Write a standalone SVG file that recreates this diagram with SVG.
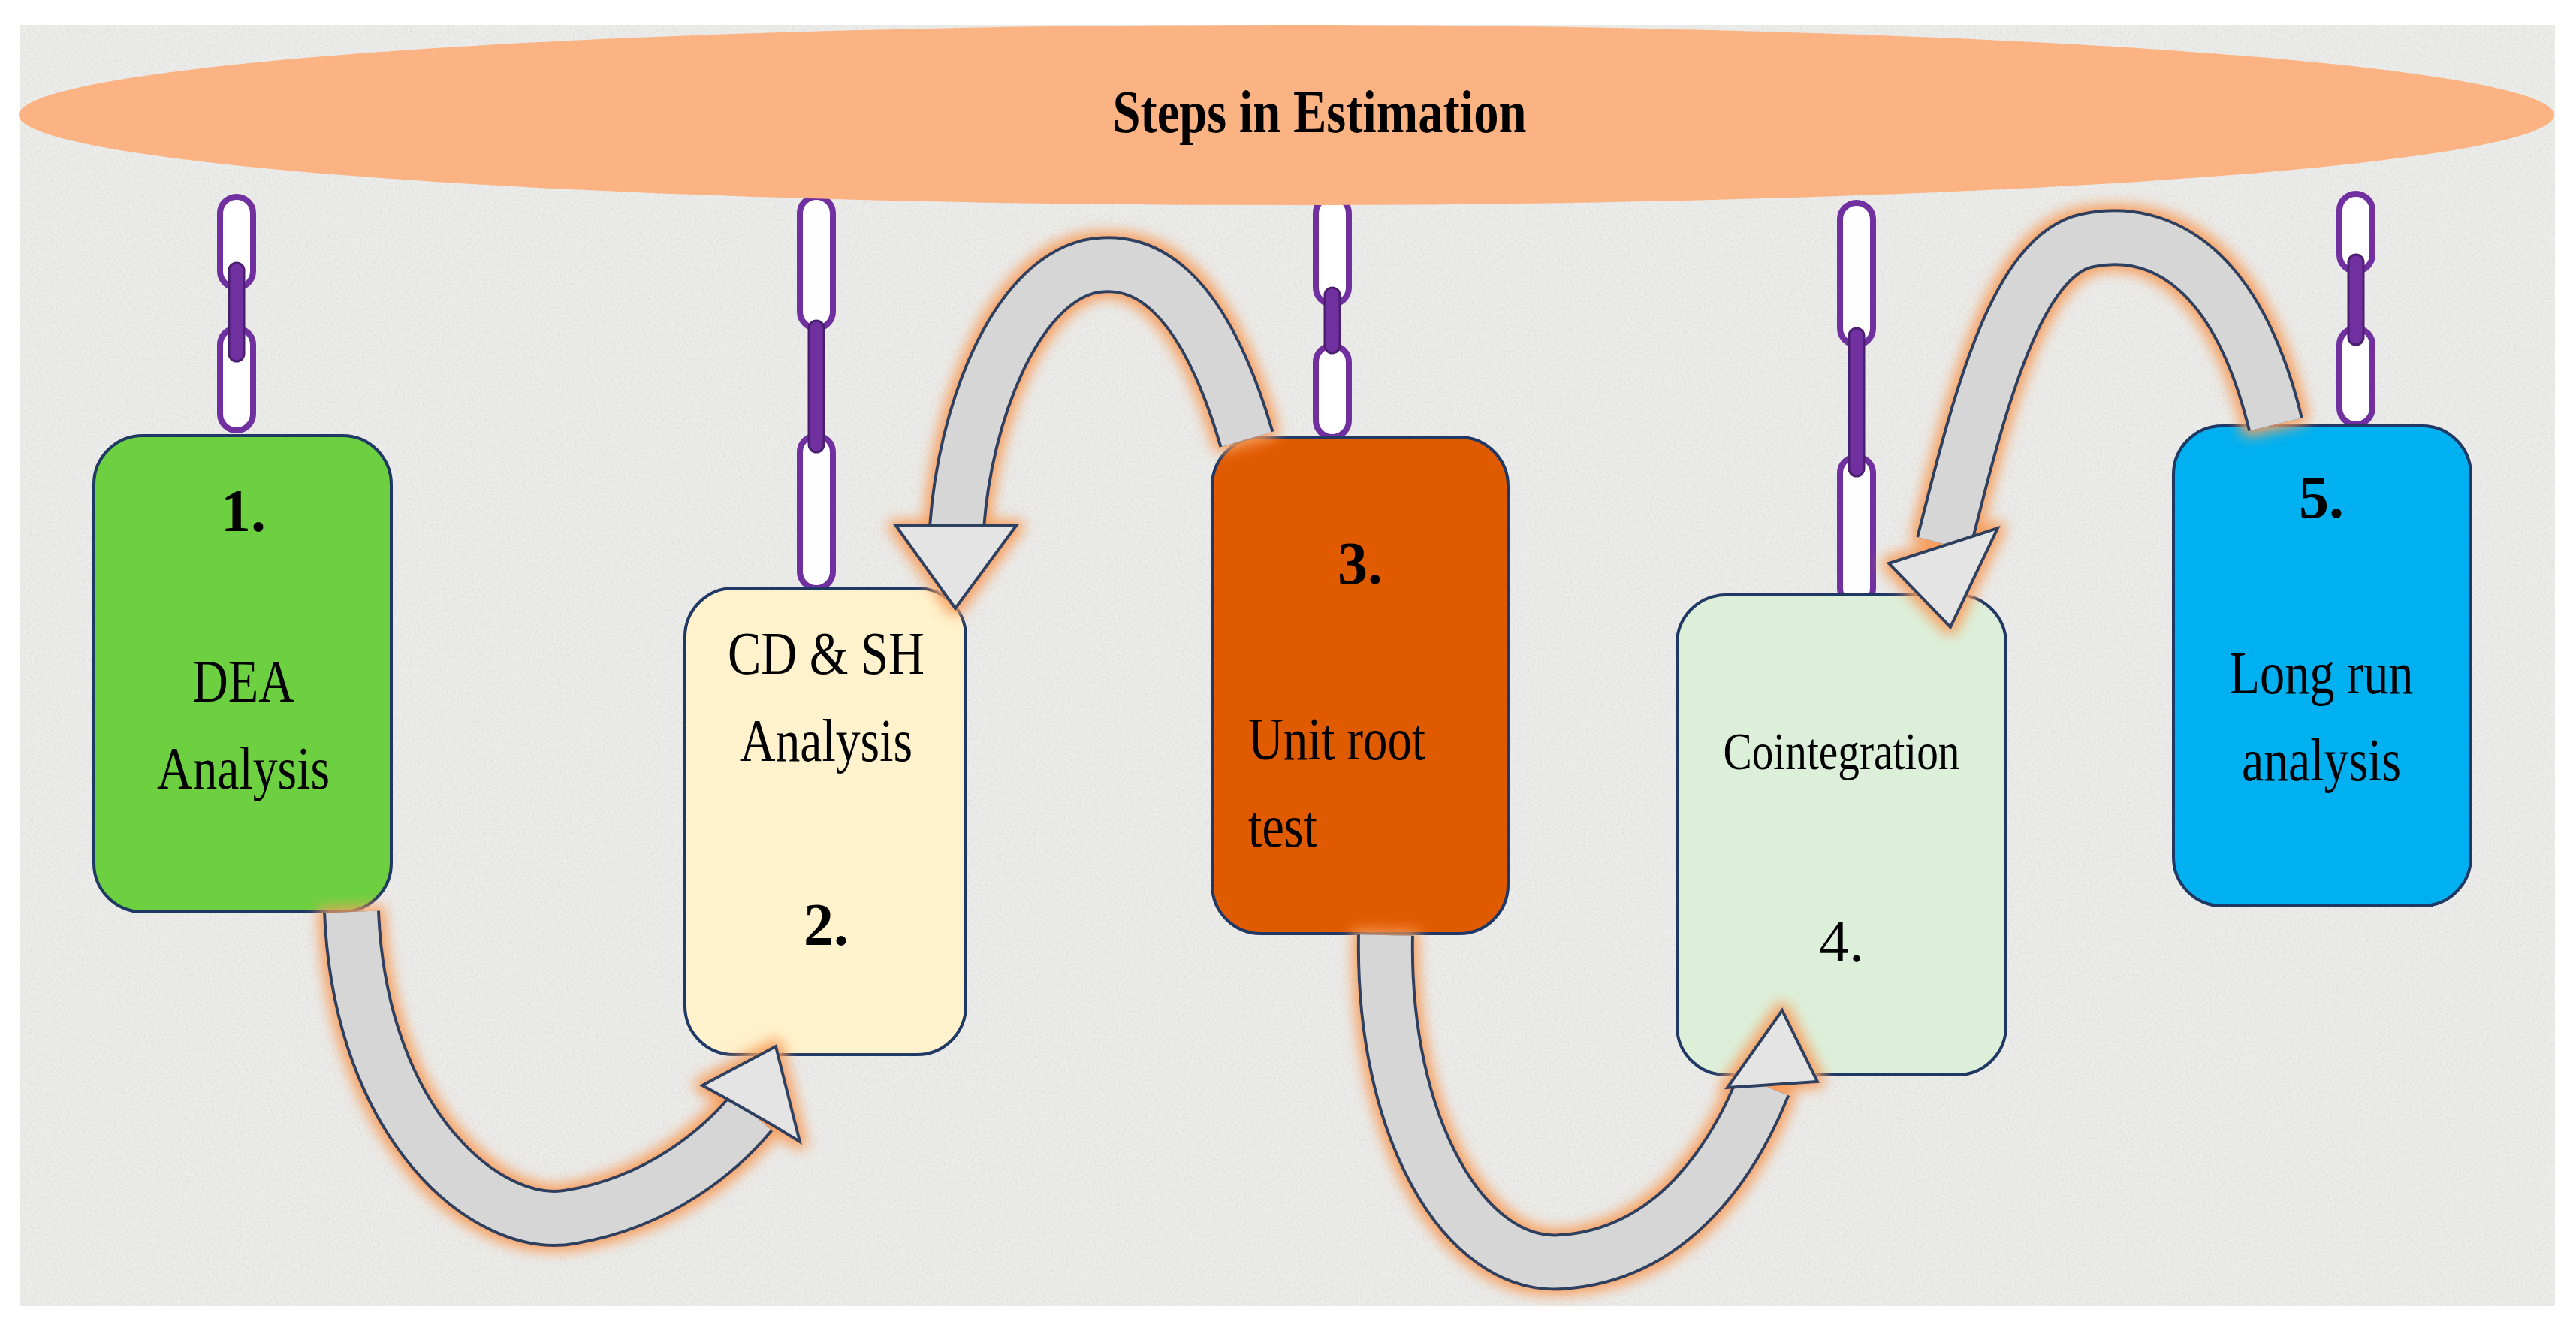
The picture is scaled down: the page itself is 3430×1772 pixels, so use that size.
<svg xmlns="http://www.w3.org/2000/svg" width="3430" height="1772" viewBox="0 0 3430 1772">
<defs>
<style>
.box{stroke:#1f3864;stroke-width:4}
.t{font-family:"Liberation Serif",serif;font-size:80px;fill:#000;text-anchor:middle}
.wl{fill:#fff;stroke:#7030a0;stroke-width:8}
.pl{fill:#7030a0;stroke:#4b1f70;stroke-width:3}
.sh-o{fill:none;stroke:#2f3f5f;stroke-width:76}
.sh-i{fill:none;stroke:#d6d6d6;stroke-width:68}
.hd{fill:#e4e4e4;stroke:#2f3f5f;stroke-width:4;stroke-linejoin:miter}
</style>
<filter id="noise" x="0" y="0" width="100%" height="100%">
<feTurbulence type="fractalNoise" baseFrequency="0.35" numOctaves="2" seed="3"/>
<feColorMatrix type="matrix" values="0 0 0 0 0.55  0 0 0 0 0.55  0 0 0 0 0.53  0 0 0 1.1 -0.45"/>
</filter>
<filter id="glow" x="-20%" y="-20%" width="140%" height="140%">
<feMorphology in="SourceAlpha" operator="dilate" radius="6" result="d"/>
<feGaussianBlur in="d" stdDeviation="9" result="b"/>
<feFlood flood-color="#f7a060"/>
<feComposite in2="b" operator="in" result="g"/>
<feMerge><feMergeNode in="g"/><feMergeNode in="SourceGraphic"/></feMerge>
</filter>
</defs>
<rect width="3430" height="1772" fill="#fff"/>
<rect x="26" y="33" width="3376" height="1706" fill="#ececea"/>
<rect x="26" y="33" width="3376" height="1706" filter="url(#noise)" opacity="0.6"/>

<g id="chains">
<rect class="wl" x="293" y="262" width="44" height="121" rx="22"/>
<rect class="wl" x="293" y="437" width="44" height="136" rx="22"/>
<rect class="pl" x="305" y="350" width="20" height="131" rx="10"/>
<rect class="wl" x="1065" y="262" width="44" height="175" rx="22"/>
<rect class="wl" x="1065" y="580" width="44" height="203" rx="22"/>
<rect class="pl" x="1077" y="427" width="20" height="175" rx="10"/>
<rect class="wl" x="1752" y="262" width="44" height="143" rx="22"/>
<rect class="wl" x="1752" y="460" width="44" height="122" rx="22"/>
<rect class="pl" x="1764" y="383" width="20" height="87" rx="10"/>
<rect class="wl" x="2450" y="270" width="44" height="189" rx="22"/>
<rect class="wl" x="2450" y="608" width="44" height="197" rx="22"/>
<rect class="pl" x="2462" y="437" width="20" height="197" rx="10"/>
<rect class="wl" x="3115" y="258" width="44" height="103" rx="22"/>
<rect class="wl" x="3115" y="437" width="44" height="128" rx="22"/>
<rect class="pl" x="3127" y="339" width="20" height="120" rx="10"/>
</g>

<g id="title">
<ellipse cx="1713" cy="153" rx="1688" ry="120" fill="#fbb383"/>
<text x="1757" y="176" textLength="551" lengthAdjust="spacingAndGlyphs" style="font-family:'Liberation Serif',serif;font-size:80px;font-weight:bold;text-anchor:middle">Steps in Estimation</text>
</g>

<g id="step1">
<rect class="box" x="125" y="580" width="396" height="634" rx="65" fill="#6dd040"/>
<text class="t" x="324" y="707" font-weight="bold">1.</text>
<text class="t" x="324" y="934" textLength="136" lengthAdjust="spacingAndGlyphs">DEA</text>
<text class="t" x="324" y="1050" textLength="230" lengthAdjust="spacingAndGlyphs">Analysis</text>
</g>
<g id="step2">
<rect class="box" x="912" y="783" width="374" height="621" rx="65" fill="#fff2cc"/>
<text class="t" x="1100" y="897" textLength="262" lengthAdjust="spacingAndGlyphs">CD &amp; SH</text>
<text class="t" x="1100" y="1013" textLength="230" lengthAdjust="spacingAndGlyphs">Analysis</text>
<text class="t" x="1100" y="1258" font-weight="bold">2.</text>
</g>
<g id="step3">
<rect class="box" x="1614" y="582" width="394" height="661" rx="65" fill="#e05a00"/>
<text class="t" x="1811" y="777" font-weight="bold">3.</text>
<text class="t" x="1662" y="1011" style="text-anchor:start" textLength="236" lengthAdjust="spacingAndGlyphs">Unit root</text>
<text class="t" x="1662" y="1127" style="text-anchor:start" textLength="92" lengthAdjust="spacingAndGlyphs">test</text>
</g>
<g id="step4">
<rect class="box" x="2233" y="792" width="438" height="639" rx="65" fill="#dcefd9"/>
<text class="t" x="2452" y="1024" style="font-size:70px" textLength="315" lengthAdjust="spacingAndGlyphs">Cointegration</text>
<text class="t" x="2452" y="1280">4.</text>
</g>
<g id="step5">
<rect class="box" x="2894" y="567" width="396" height="639" rx="65" fill="#00b0f0"/>
<text class="t" x="3091" y="689" font-weight="bold">5.</text>
<text class="t" x="3091" y="923" textLength="245" lengthAdjust="spacingAndGlyphs">Long run</text>
<text class="t" x="3091" y="1039" textLength="212" lengthAdjust="spacingAndGlyphs">analysis</text>
</g>

<g id="connectors">
<g filter="url(#glow)">
<path class="sh-o" d="M 468 1214 C 480 1500 650 1640 760 1620 C 880 1600 960 1530 1000 1482"/>
<path class="sh-i" d="M 468 1214 C 480 1500 650 1640 760 1620 C 880 1600 960 1530 1000 1482"/>
<polygon class="hd" points="1033,1393 935,1445 968,1463 1032,1500 1065,1520"/>
</g>
<g filter="url(#glow)">
<path class="sh-o" d="M 1660 585 C 1600 380 1520 340 1450 355 C 1350 380 1285 550 1274 702"/>
<path class="sh-i" d="M 1660 585 C 1600 380 1520 340 1450 355 C 1350 380 1285 550 1274 702"/>
<polygon class="hd" points="1193,700 1353,700 1272,810"/>
</g>
<g filter="url(#glow)">
<path class="sh-o" d="M 1845 1245 C 1840 1500 1950 1690 2080 1680 C 2230 1670 2310 1540 2348 1445"/>
<path class="sh-i" d="M 1845 1245 C 1840 1500 1950 1690 2080 1680 C 2230 1670 2310 1540 2348 1445"/>
<polygon class="hd" points="2373,1345 2300,1448 2420,1440"/>
</g>
<g filter="url(#glow)">
<path class="sh-o" d="M 3030 565 C 2980 360 2880 300 2780 320 C 2680 340 2630 560 2588 724"/>
<path class="sh-i" d="M 3030 565 C 2980 360 2880 300 2780 320 C 2680 340 2630 560 2588 724"/>
<polygon class="hd" points="2515,750 2660,703 2597,835"/>
</g>
</g>
</svg>
